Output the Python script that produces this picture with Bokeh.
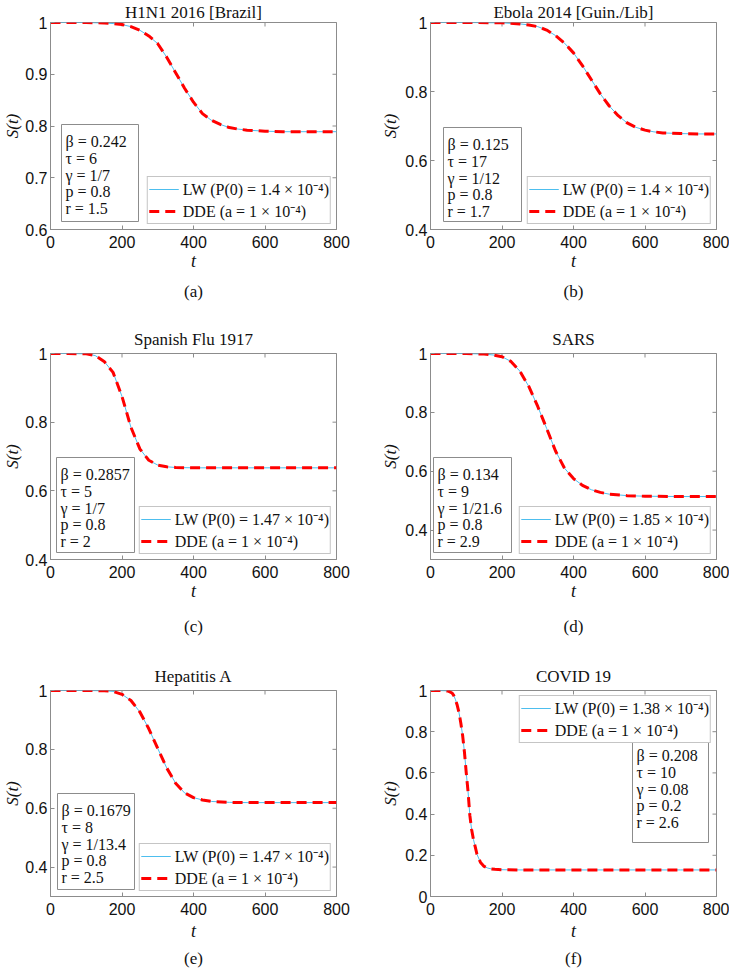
import math
from bokeh.plotting import figure
from bokeh.models import (Label, Legend, LegendItem, FixedTicker, Title,
                          CustomJSTickFormatter, BoxAnnotation, Range1d)
from bokeh.layouts import gridplot
from bokeh.embed import file_html
from bokeh.resources import INLINE

# ---------------- data ----------------
t_h1n1 = [0, 50, 100, 150, 175, 200, 225, 250, 275, 300, 325, 350, 375, 400, 425, 450, 475, 500, 525, 550, 600, 650, 700, 750, 800]
s_h1n1 = [1.0, 1.0, 1.0, 0.999, 0.998, 0.996, 0.992, 0.985, 0.974, 0.959, 0.933, 0.903, 0.873, 0.846, 0.824, 0.811, 0.803, 0.797, 0.794, 0.792, 0.790, 0.789, 0.789, 0.789, 0.789]

t_ebola = [0, 100, 200, 250, 275, 300, 325, 350, 375, 400, 425, 450, 475, 500, 525, 550, 575, 600, 625, 650, 700, 750, 800]
s_ebola = [1.0, 1.0, 0.999, 0.996, 0.993, 0.988, 0.978, 0.962, 0.940, 0.912, 0.875, 0.834, 0.793, 0.758, 0.730, 0.709, 0.696, 0.688, 0.683, 0.680, 0.678, 0.677, 0.677]

t_flu = [0, 50, 100, 125, 150, 175, 200, 225, 250, 275, 300, 325, 350, 400, 500, 600, 700, 800]
s_flu = [1.0, 1.0, 0.999, 0.994, 0.977, 0.945, 0.875, 0.785, 0.722, 0.689, 0.675, 0.670, 0.668, 0.667, 0.667, 0.667, 0.667, 0.667]

t_sars = [0, 100, 150, 175, 200, 225, 250, 275, 300, 325, 350, 375, 400, 425, 450, 475, 500, 550, 600, 700, 800]
s_sars = [1.0, 1.0, 0.998, 0.995, 0.989, 0.973, 0.940, 0.888, 0.820, 0.745, 0.668, 0.610, 0.575, 0.552, 0.537, 0.528, 0.522, 0.517, 0.515, 0.514, 0.514]

t_hepa = [0, 100, 150, 175, 200, 225, 250, 275, 300, 325, 350, 375, 400, 425, 450, 500, 550, 600, 700, 800]
s_hepa = [1.0, 1.0, 0.999, 0.997, 0.987, 0.966, 0.927, 0.870, 0.803, 0.737, 0.685, 0.652, 0.636, 0.628, 0.623, 0.620, 0.619, 0.619, 0.619, 0.619]

t_covid = [0, 20, 40, 50, 60, 65, 70, 75, 80, 85, 90, 95, 100, 105, 110, 115, 120, 125, 130, 140, 150, 160, 170, 180, 200, 250, 300, 400, 500, 600, 700, 800]
s_covid = [1.0, 1.0, 0.999, 0.997, 0.988, 0.976, 0.955, 0.927, 0.89, 0.84, 0.78, 0.70, 0.60, 0.51, 0.395, 0.325, 0.278, 0.242, 0.205, 0.165, 0.146, 0.138, 0.134, 0.132, 0.130, 0.129, 0.129, 0.129, 0.129, 0.129, 0.129, 0.129]

titles = ["H1N1 2016 [Brazil]", "Ebola 2014 [Guin./Lib]", "Spanish Flu 1917",
          "SARS", "Hepatitis A", "COVID 19"]
captions = ["(a)", "(b)", "(c)", "(d)", "(e)", "(f)"]
beta_vals = ["0.242", "0.125", "0.2857", "0.134", "0.1679", "0.208"]
tau_vals = ["6", "17", "5", "9", "8", "10"]
gamma_vals = ["1/7", "1/12", "1/7", "1/21.6", "1/13.4", "0.08"]
p_vals = ["0.8", "0.8", "0.8", "0.8", "0.8", "0.2"]
r_vals = ["1.5", "1.7", "2", "2.9", "2.5", "2.6"]
p0_vals = ["1.4", "1.4", "1.47", "1.85", "1.47", "1.38"]
a_label = "DDE (a = 1 \u00d7 10\u207b\u2074)"
x_ticks = [0, 200, 400, 600, 800]
y_limits = [(0.6, 1.0), (0.4, 1.0), (0.4, 1.0), (0.3, 1.0), (0.3, 1.0), (0.0, 1.0)]
y_ticks = [[0.6, 0.7, 0.8, 0.9, 1], [0.4, 0.6, 0.8, 1], [0.4, 0.6, 0.8, 1],
           [0.4, 0.6, 0.8, 1], [0.4, 0.6, 0.8, 1], [0, 0.2, 0.4, 0.6, 0.8, 1]]
series = [(t_h1n1, s_h1n1), (t_ebola, s_ebola), (t_flu, s_flu),
          (t_sars, s_sars), (t_hepa, s_hepa), (t_covid, s_covid)]

# ---------------- layout / style ----------------
SERIF = "Liberation Serif"
SANS = "Liberation Sans"
AX = "#8c8c8c"
TXT = "#111111"

col_w = [364, 365]
col_bl = [49, 66]
col_br = [28, 13]
col_ylab_standoff = [0, 2]
row_h = [320, 335, 318]
row_bt = [22, 33, 35]
row_bb = [91, 96, 77]
row_xlab_standoff = [0, 0, 3]
title_standoff = [0.5, 10, 10]
cap_standoff = [13, 23, 6]

# parameter boxes: (left, bottom, width, height) in frame px; None => right anchored
pbox = [(11, 8, 77, 97), (13, 8, 78, 94), (6, 7, 78, 95),
        (3, 7, 78, 95), (7, 7, 77, 96), (None, 54, 76, 104)]
legend_loc = ["bottom_right"] * 5 + ["top_right"]

fmt = CustomJSTickFormatter(code="return String(tick)")

figs = []
for i in range(6):
    r, c = divmod(i, 2)
    W, H = col_w[c], row_h[r]
    fw = W - col_bl[c] - col_br[c]
    lo, hi = y_limits[i]
    p = figure(width=W, height=H, x_range=Range1d(0, 800), y_range=Range1d(lo, hi),
               output_backend="svg", toolbar_location=None,
               min_border_left=col_bl[c], min_border_right=col_br[c],
               min_border_top=row_bt[r], min_border_bottom=row_bb[r],
               outline_line_color=AX, outline_line_width=1)
    p.xgrid.visible = False
    p.ygrid.visible = False

    for ax, ticks in ((p.xaxis, x_ticks), (p.yaxis, y_ticks[i])):
        ax.ticker = FixedTicker(ticks=ticks)
        ax.formatter = fmt
        ax.axis_line_color = AX
        ax.major_tick_line_color = AX
        ax.major_tick_in = 4
        ax.major_tick_out = 0
        ax.minor_tick_line_color = None
        ax.major_label_text_font = SANS
        ax.major_label_text_font_size = "16px"
        ax.major_label_text_color = TXT
        ax.axis_label_text_font = SERIF
        ax.axis_label_text_font_style = "italic"
        ax.axis_label_text_color = TXT
    p.xaxis.axis_label_text_font_size = "18px"
    p.yaxis.axis_label_text_font_size = "17px"
    p.xaxis.major_label_standoff = 6
    p.yaxis.major_label_standoff = 3
    p.xaxis.axis_label = "t"
    p.xaxis.axis_label_standoff = row_xlab_standoff[r]
    p.yaxis.axis_label = "S(t)"
    p.yaxis.axis_label_standoff = col_ylab_standoff[c]

    # inward ticks on the top and right edges of the box
    p.scatter(x=x_ticks, y=[hi] * len(x_ticks), marker="dash", size=8, angle=math.pi / 2,
              line_color=AX, line_width=1)
    p.scatter(x=[800] * len(y_ticks[i]), y=y_ticks[i], marker="dash", size=8,
              line_color=AX, line_width=1)

    t, s = series[i]
    lw = p.line(t, s, line_color="#4DBEEE", line_width=1)
    dde = p.line(t, s, line_color="#FF0000", line_width=3, line_dash="10 6")

    legend = Legend(items=[
        LegendItem(label="LW (P(0) = " + p0_vals[i] + " \u00d7 10\u207b\u2074)", renderers=[lw]),
        LegendItem(label=a_label, renderers=[dde])],
        location=legend_loc[i], margin=5, padding=1, spacing=0,
        glyph_width=30, glyph_height=16, label_height=16, label_standoff=4,
        label_text_font=SERIF, label_text_font_size="16px", label_text_color=TXT,
        border_line_color=AX, border_line_width=1, background_fill_alpha=1.0)
    p.add_layout(legend)

    bl, bb, bw, bh = pbox[i]
    if bl is None:
        bl = fw - 8 - bw
    p.add_layout(BoxAnnotation(left=bl, right=bl + bw, bottom=bb, top=bb + bh,
                               left_units="screen", right_units="screen",
                               top_units="screen", bottom_units="screen",
                               fill_color="white", fill_alpha=1.0,
                               line_color=AX, line_width=1, line_alpha=1.0))
    lines = ["\u03b2 = " + beta_vals[i], "\u03c4 = " + tau_vals[i],
             "\u03b3 = " + gamma_vals[i], "p = " + p_vals[i], "r = " + r_vals[i]]
    for k, txt in enumerate(lines):
        p.add_layout(Label(x=bl + 4, y=bb + bh - 17 - k * 16.8, x_units="screen", y_units="screen",
                           text=txt, text_font=SERIF, text_font_size="16px", text_color=TXT,
                           text_align="left", text_baseline="middle"))

    p.add_layout(Title(text=titles[i], text_font=SERIF, text_font_size="17px",
                       text_font_style="normal", text_color=TXT, align="center",
                       standoff=title_standoff[r]), "above")
    p.add_layout(Title(text=captions[i], text_font=SERIF, text_font_size="17px",
                       text_font_style="normal", text_color=TXT, align="center",
                       standoff=cap_standoff[r]), "below")
    figs.append(p)

grid = gridplot([[figs[0], figs[1]], [figs[2], figs[3]], [figs[4], figs[5]]],
                toolbar_location=None)

open("out.html", "w").write(file_html(grid, INLINE))
